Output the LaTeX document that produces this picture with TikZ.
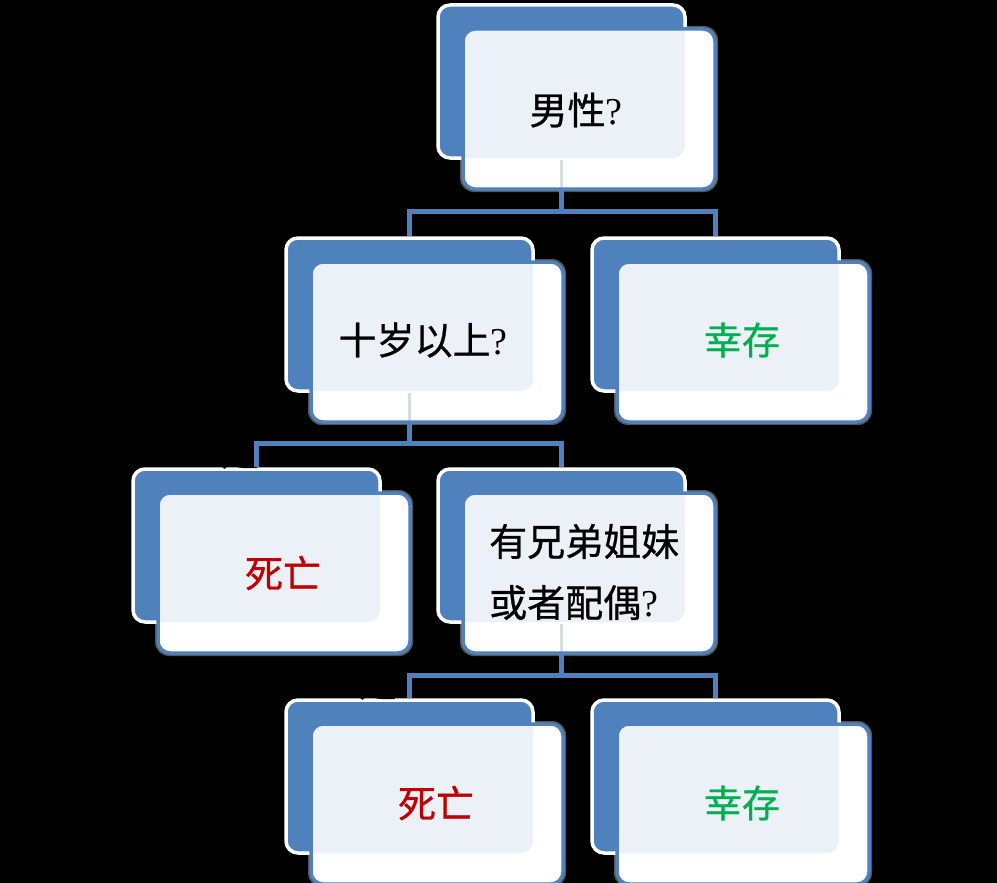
\documentclass[tikz,border=0pt]{standalone}
\usepackage{fontspec}
\setmainfont{Noto Sans CJK SC}[FakeBold=0.7]
\newfontfamily\qfont{Liberation Serif}
\definecolor{bl}{HTML}{4F81BD}
\definecolor{ovl}{HTML}{ECF1F8}
\definecolor{faintc}{HTML}{D6DDE8}
\definecolor{shadowc}{HTML}{555555}
\definecolor{redt}{HTML}{C00000}
\definecolor{greent}{HTML}{00B050}
\tikzset{
  backbox/.style={draw=white, line width=3.5pt, fill=bl, rounded corners=12pt,
    minimum width=247pt, minimum height=153pt, inner sep=0pt},
  frontfill/.style={fill=white, rounded corners=12pt, minimum width=252pt,
    minimum height=160pt, inner sep=0pt},
  frontline/.style={draw=bl, line width=3.5pt},
  faint/.style={draw=faintc, line width=3pt},
  conn/.style={draw=bl, line width=5pt},
  txt/.style={font=\fontsize{38}{61}\selectfont, inner sep=0pt, align=left},
  lbl/.style={font=\fontsize{38}{46}\selectfont, text=black, inner sep=0pt}
}
\newcommand\backpart[3]{%
  \fill[shadowc, rounded corners=14pt] (#2+22,#3+21) rectangle (#2+280,#3+187);
  \node[backbox] (#1b) at (#2+123.5,#3+76.5) {};
}
\newcommand\frontpart[3]{%
  \node[frontfill] (#1f) at (#2+151,#3+104) {};
  \begin{scope}
    \clip[rounded corners=12pt] (#2+25,#3+24) rectangle ++(252,160);
    \fill[ovl, rounded corners=12pt] (#2,#3) rectangle ++(247,153);
  \end{scope}
}
\newcommand\frontborder[3]{%
  \draw[frontline, rounded corners=12pt] (#2+25,#3+24) rectangle ++(252,160);
}
\begin{document}
\begin{tikzpicture}[x=1pt,y=-1pt]
\fill[black] (0,0) rectangle (997,883);
\useasboundingbox (0,0) rectangle (997,883);

% back parts
\backpart{A}{438}{5}
\backpart{B}{286}{238}
\backpart{C}{592}{238}
\backpart{D}{133}{469}
\backpart{E}{438}{469}
\backpart{F}{286}{700}
\backpart{G}{592}{700}

% hidden labels (black)
\node[lbl] (lAB) at (388,208) {是};
\node[lbl] (lAC) at (737,170) {否};
\node[lbl] (lBD) at (240,452) {是};
\node[lbl] (lBE) at (585,425) {否};
\node[lbl] (lEF) at (378,683) {是};
\node[lbl] (lEG) at (740,677) {否};

% connectors
\coordinate (j1) at (561.5,211);
\coordinate (j2) at (409.5,443);
\coordinate (j3) at (561.5,675);
\draw[conn] (Ab.south) -- (j1);
\draw[conn] (Bb.north) |- (j1) -| (Cb.north);
\draw[conn] (Bb.south) -- (j2);
\draw[conn] (Db.north) |- (j2) -| (Eb.north);
\draw[conn] (Eb.south) -- (j3);
\draw[conn] (Fb.north) |- (j3) -| (Gb.north);

% front parts
\frontpart{A}{438}{5}
\frontpart{B}{286}{238}
\frontpart{C}{592}{238}
\frontpart{D}{133}{469}
\frontpart{E}{438}{469}
\frontpart{F}{286}{700}
\frontpart{G}{592}{700}

% connector seen through the front boxes
\draw[faint] (Ab.south) -- (Ab.south |- Af.south);
\draw[faint] (Bb.south) -- (Bb.south |- Bf.south);
\draw[faint] (Eb.south) -- (Eb.south |- Ef.south);

\frontborder{A}{438}{5}
\frontborder{B}{286}{238}
\frontborder{C}{592}{238}
\frontborder{D}{133}{469}
\frontborder{E}{438}{469}
\frontborder{F}{286}{700}
\frontborder{G}{592}{700}

% texts
\node[txt] (tA) at (576,110) {男性{\qfont ?}};
\node[txt] (tB) at (423,340) {十岁以上{\qfont ?}};
\node[txt, text=greent] (tC) at (742,340) {幸存};
\node[txt, text=redt] (tD) at (283,573) {死亡};
\node[txt, anchor=west] (tE) at (489,572) {有兄弟姐妹\\或者配偶{\qfont ?}};
\node[txt, text=redt] (tF) at (436,803) {死亡};
\node[txt, text=greent] (tG) at (742,803) {幸存};
\end{tikzpicture}
\end{document}
